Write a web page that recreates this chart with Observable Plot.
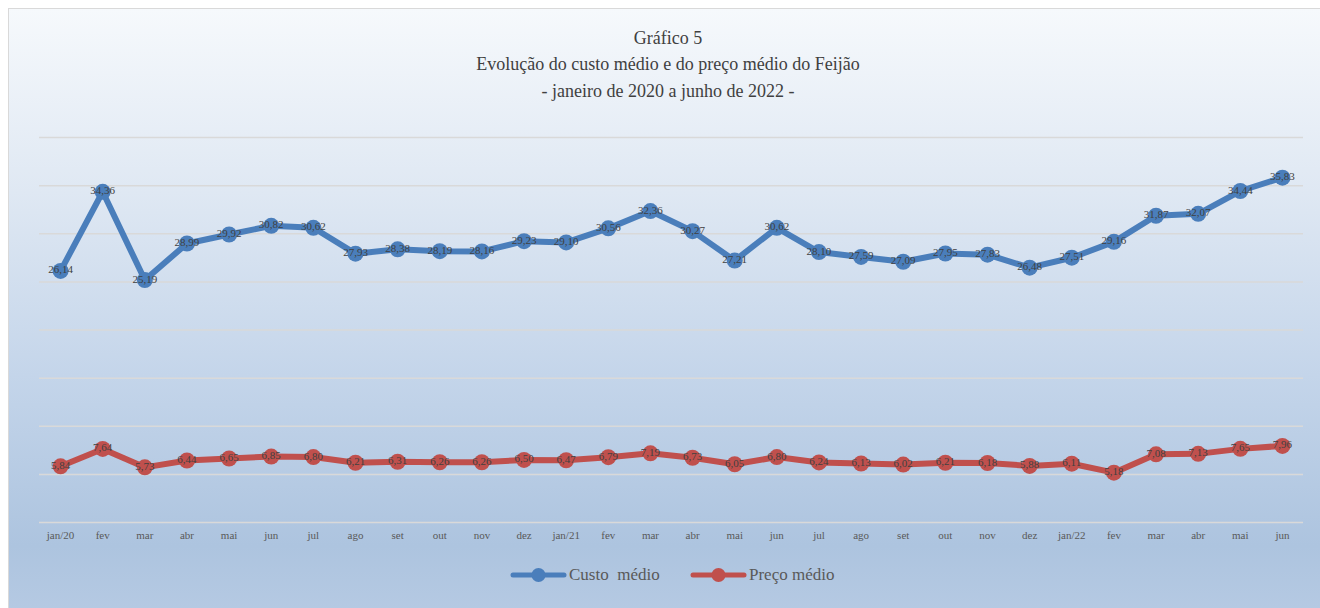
<!DOCTYPE html>
<html>
<head>
<meta charset="utf-8">
<script src="https://cdn.jsdelivr.net/npm/d3@7"></script>
<script src="https://cdn.jsdelivr.net/npm/@observablehq/plot@0.6"></script>
<style>
  html, body { margin: 0; padding: 0; width: 1320px; height: 608px; overflow: hidden; background: #ffffff; }
  #frame { position: absolute; left: 8px; top: 8px; width: 1320px; height: 610px;
    border-left: 1.5px solid #d9d9d9; border-top: 1.5px solid #d9d9d9;
    background: linear-gradient(to bottom, #f6f9fc 0%, #dfe8f3 30%, #c4d5ea 60%, #adc4df 88%, #b6cae3 100%); }
  .title { position: absolute; left: 0; width: 1336px; text-align: center; font-family: "Liberation Serif", "Times New Roman", serif; font-size: 18px; color: #404040; }
  #chart { position: absolute; left: 0; top: 0; }
  #legend { position: absolute; top: 565px; left: 0; font-family: "Liberation Serif", "Times New Roman", serif; font-size: 17px; color: #595959; }
  .item { position: absolute; white-space: nowrap; display: flex; align-items: center; }
</style>
</head>
<body>
<div id="frame"></div>
<div class="title" style="top:28px">Gráfico 5</div>
<div class="title" style="top:54px">Evolução do custo médio e do preço médio do Feijão</div>
<div class="title" style="top:81px">- janeiro de 2020 a junho de 2022 -</div>
<div id="chart"></div>
<div id="legend"></div>
<script>
const months = ["jan/20","fev","mar","abr","mai","jun","jul","ago","set","out","nov","dez",
  "jan/21","fev","mar","abr","mai","jun","jul","ago","set","out","nov","dez",
  "jan/22","fev","mar","abr","mai","jun"];
const custoMedio = [26.14,34.36,25.19,28.99,29.92,30.82,30.62,27.93,28.38,28.19,28.16,29.23,
  29.10,30.56,32.36,30.27,27.21,30.62,28.10,27.59,27.09,27.95,27.83,26.48,
  27.51,29.16,31.87,32.07,34.44,35.83];
const precoMedio = [5.84,7.64,5.73,6.44,6.65,6.85,6.80,6.21,6.31,6.26,6.26,6.50,
  6.47,6.79,7.19,6.73,6.05,6.80,6.24,6.13,6.02,6.21,6.18,5.88,
  6.11,5.18,7.08,7.13,7.65,7.96];
const gridValues = [0,5,10,15,20,25,30,35,40];
const seriesNames = ["Custo  médio", "Preço médio"];
const seriesColors = ["#4a7ebb", "#c0504d"];

const rows = [];
months.forEach((m, i) => {
  rows.push({i, serie: seriesNames[0], v: custoMedio[i]});
  rows.push({i, serie: seriesNames[1], v: precoMedio[i]});
});
const fmt = v => v.toFixed(2).replace(".", ",");
const idx = months.map((_, i) => i);

const chart = Plot.plot({
  width: 1320,
  height: 550,
  marginLeft: 39,
  marginRight: 17,
  marginTop: 137,
  marginBottom: 28,
  style: { background: "transparent", fontFamily: "Liberation Serif, serif" },
  x: { type: "point", domain: idx, padding: 0.5, round: false, label: null, axis: null },
  y: { domain: [0, 40], axis: null },
  color: { domain: seriesNames, range: seriesColors },
  marks: [
    Plot.ruleY(gridValues, { stroke: "#d9d9d9", strokeWidth: 1.5 }),
    Plot.axisX({ tickSize: 0, tickPadding: 9, fontSize: 11, fill: "#595959", label: null,
                 tickFormat: i => months[i], fontFamily: "Liberation Serif, serif" }),
    Plot.line(rows, { x: "i", y: "v", z: "serie", stroke: "serie", strokeWidth: 6,
                      strokeLinejoin: "round", strokeLinecap: "round" }),
    Plot.dot(rows, { x: "i", y: "v", fill: "serie", r: 8, stroke: "none" }),
    Plot.text(rows, { x: "i", y: "v", text: d => fmt(d.v), fill: "#404040", fontSize: 11,
                      fontFamily: "Liberation Serif, serif", dy: -1 })
  ]
});
document.getElementById("chart").appendChild(chart);

const legend = document.getElementById("legend");
const lx = [510, 690];
seriesNames.forEach((name, k) => {
  const it = document.createElement("div");
  it.className = "item";
  it.style.left = lx[k] + "px";
  it.innerHTML = `<svg width="57" height="20" style="margin-right:2px"><line x1="3" y1="10" x2="54" y2="10" stroke="${seriesColors[k]}" stroke-width="5" stroke-linecap="round"/><circle cx="28.5" cy="10" r="7" fill="${seriesColors[k]}"/></svg><span>${name.replace(/ /g, "&nbsp;")}</span>`;
  legend.appendChild(it);
});
</script>
</body>
</html>
